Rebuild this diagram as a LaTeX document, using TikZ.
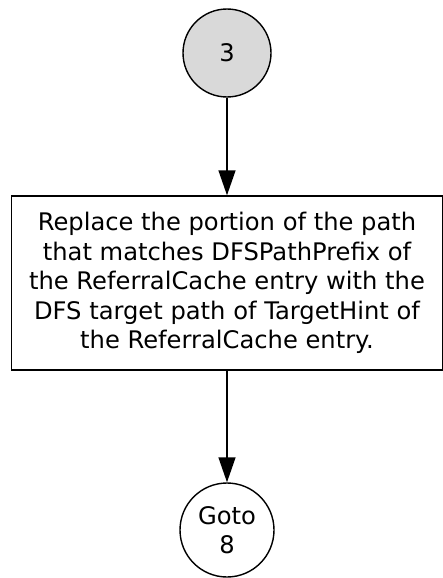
\documentclass[tikz,border=0pt]{standalone}
\usepackage{fontspec}
\setmainfont{DejaVu Sans}
\usetikzlibrary{positioning,arrows.meta}
\definecolor{startgray}{HTML}{D9D9D9}
\tikzset{
node distance=230pt, % distance between the centres of the nodes
every node/.style={font=\fontsize{24.2}{29.5}\selectfont, align=center},
connector/.style={ -{Triangle[length=25pt,width=17pt]}, line width=1.4pt},
}
\tikzset{
    onpage/.style={circle, draw, line width=1.4pt, inner sep=0pt},
    action/.style={rectangle, draw, line width=1.4pt, minimum width=431pt, minimum height=174pt}
}
\begin{document}
\begin{tikzpicture}[x=1pt,y=1pt,on grid]
   \useasboundingbox (0,0) rectangle (443,-578);
   \node[onpage, fill=startgray, minimum size=88pt] (s_3) at (227,-53) {3};
   \node[action] (replace) [below=230pt of s_3] {Replace the portion of the path\\that matches DFSPathPrefix of\\the ReferralCache entry with the\\DFS target path of TargetHint of\\the ReferralCache entry.};
   \node[onpage, minimum size=94pt] (goto_8) [below=247pt of replace] {Goto\\8};
    \draw[connector] (s_3) -- (replace);
    \draw[connector] (replace) -- (goto_8);
\end{tikzpicture}
\end{document}
